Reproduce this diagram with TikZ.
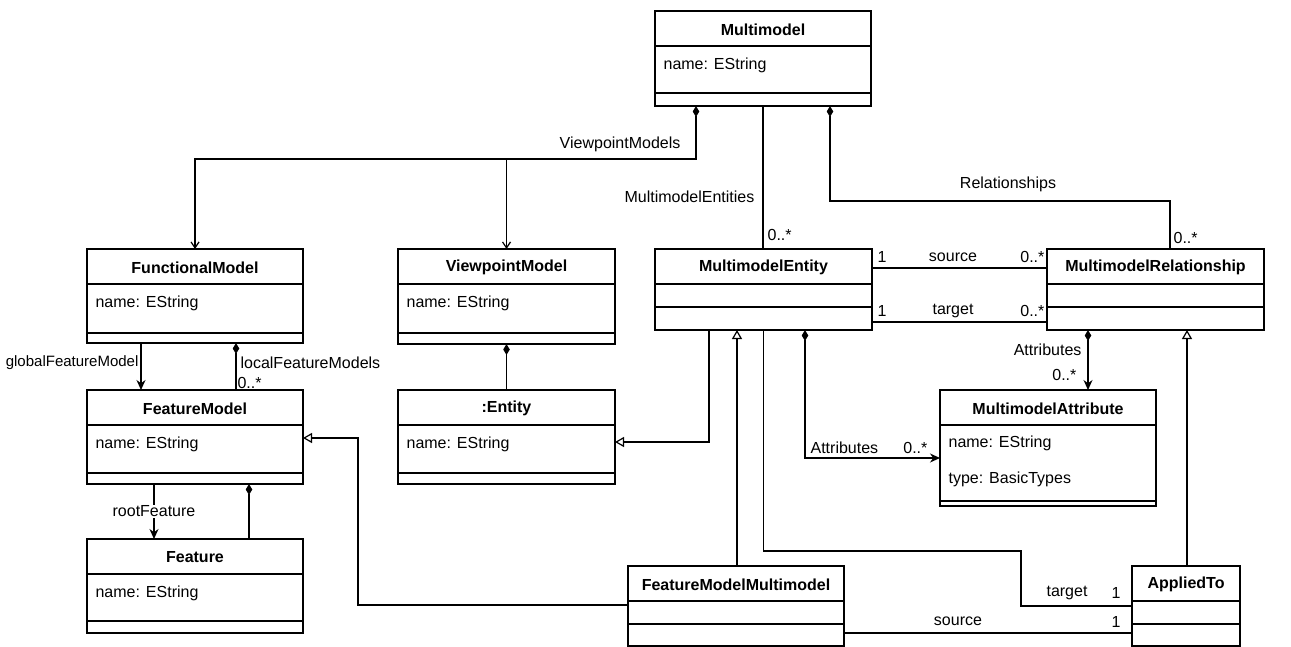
\documentclass[tikz,border=0pt]{standalone}
\usepackage{fontspec}
\setmainfont{Liberation Sans}
\usetikzlibrary{arrows.meta,calc}

% UML class box: name, x, y, width, height, offset of the operations divider, title
\newcommand\umlclass[7]{%
  \node[clsbox, minimum width=#4pt, minimum height=#5pt] (#1) at (#2,#3) {};
  \draw[boxline] ($(#1.north west)+(0,35)$) -- ($(#1.north east)+(0,35)$);
  \draw[boxline] ($(#1.north west)+(0,#6)$) -- ($(#1.north east)+(0,#6)$);
  \node[title] at ($(#1.north)+(0,18.5)$) {#7};
}

\begin{document}
\begin{tikzpicture}[x=1pt,y=-1pt,
  line width=1.2pt,
  font=\fontsize{16}{19}\selectfont,
  boxline/.style={line width=1.3pt},
  clsbox/.style={draw, rectangle, fill=white, inner sep=0pt, outer sep=0pt,
    anchor=north west, line width=1.3pt},
  title/.style={font=\fontsize{16}{19}\selectfont\bfseries, inner sep=0pt},
  attr/.style={anchor=west, inner sep=0pt},
  lbl/.style={inner sep=0pt},
  comp/.style={{Diamond[length=11pt,width=6.5pt]}-},
  compnav/.style={{Diamond[length=11pt,width=6.5pt]}-{Stealth[length=10pt,width=9pt]}},
  compopen/.style={{Diamond[length=11pt,width=6.5pt]}-{Straight Barb[length=6pt,width=8pt]}},
  nav/.style={-{Stealth[length=10pt,width=9pt]}},
  openend/.style={-{Straight Barb[length=6pt,width=8pt]}},
  gen/.style={-{Triangle[open,fill=white,length=9pt,width=10pt]}}
]
\useasboundingbox (0,0) rectangle (1291,647);

% classes
\umlclass{mm}{655}{11}{216}{95}{82}{Multimodel}
\umlclass{fm}{87}{249}{216}{94}{84}{FunctionalModel}
\umlclass{vm}{398}{249}{217}{95}{84}{ViewpointModel}
\umlclass{fem}{87}{390}{216}{94}{83}{FeatureModel}
\umlclass{ent}{398}{390}{217}{94}{83}{:Entity}
\umlclass{feat}{87}{539}{216}{94}{82}{Feature}
\umlclass{me}{655}{249}{217}{81}{58}{MultimodelEntity}
\umlclass{mr}{1047}{249}{217}{81}{58}{MultimodelRelationship}
\umlclass{ma}{940}{390}{216}{116}{111}{MultimodelAttribute}
\umlclass{fmm}{628}{566}{216}{80}{58}{FeatureModelMultimodel}
\umlclass{at}{1132}{566}{108}{80}{58}{AppliedTo}

% attributes
\node[attr] at ($(mm.north west)+(8,54)$) {name: EString};
\node[attr] at ($(fm.north west)+(8,54)$) {name: EString};
\node[attr] at ($(vm.north west)+(8,54)$) {name: EString};
\node[attr] at ($(fem.north west)+(8,54)$) {name: EString};
\node[attr] at ($(ent.north west)+(8,54)$) {name: EString};
\node[attr] at ($(feat.north west)+(8,54)$) {name: EString};
\node[attr] at ($(ma.north west)+(8,53)$) {name: EString};
\node[attr] at ($(ma.north west)+(8,89)$) {type: BasicTypes};

% Multimodel -> FunctionalModel / ViewpointModel
\coordinate (vpbend) at ($(mm.south west)+(41,53)$);
\draw[compopen] ($(mm.south west)+(41,0)$) -- (vpbend) -| (fm.north);
\draw[openend] (vm.north |- vpbend) -- (vm.north);
\node[lbl, anchor=east] at (681,144) {ViewpointModels};

% Multimodel -> MultimodelEntity
\draw (mm.south) -- (mm.south |- me.north);
\node[lbl, anchor=east] at (755,197) {MultimodelEntities};
\node[lbl, anchor=west] at (767,235) {0..*};

% Multimodel -> MultimodelRelationship
\draw[comp] ($(mm.south west)+(175,0)$) -- ++(0,95) -| ($(mr.north west)+(123,0)$);
\node[lbl] at (1008,184) {Relationships};
\node[lbl, anchor=west] at (1173,238) {0..*};

% MultimodelEntity -- MultimodelRelationship
\draw ($(me.north east)+(0,19)$) -- ($(mr.north west)+(0,19)$);
\node[lbl, anchor=west] at (877,257) {1};
\node[lbl] at (953,257) {source};
\node[lbl, anchor=east] at (1045,257) {0..*};
\draw ($(me.north east)+(0,73)$) -- ($(mr.north west)+(0,73)$);
\node[lbl, anchor=west] at (877,311) {1};
\node[lbl] at (953,311) {target};
\node[lbl, anchor=east] at (1045,311) {0..*};

% MultimodelRelationship -> MultimodelAttribute
\draw[compnav] ($(mr.south west)+(41,0)$) -- ($(ma.north west)+(148,0)$);
\node[lbl, anchor=east] at (1082,350) {Attributes};
\node[lbl, anchor=east] at (1077,375) {0..*};

% MultimodelEntity -> MultimodelAttribute
\draw[compnav] ($(me.south west)+(150,0)$) |- ($(ma.north west)+(0,68)$);
\node[lbl, anchor=west] at (810,448) {Attributes};
\node[lbl, anchor=east] at (928,448) {0..*};

% generalizations
\draw[gen] ($(me.south west)+(54,0)$) |- ($(ent.north east)+(0,52)$);
\draw[gen] ($(fmm.north west)+(109,0)$) -- ($(me.south west)+(82,0)$);
\draw[gen] ($(fmm.north west)+(0,39)$) -| ($(fem.north east)+(55,48)$) -- ($(fem.north east)+(0,48)$);
\draw[gen] ($(at.north west)+(55,0)$) -- ($(mr.south west)+(140,0)$);

% MultimodelEntity -- AppliedTo (target)
\draw (me.south) |- ($(at.north west)+(-111,-15)$) |- ($(at.north west)+(0,40)$);
\node[lbl] at (1067,593) {target};
\node[lbl] at (1116,593) {1};

% FeatureModelMultimodel -- AppliedTo (source)
\draw ($(fmm.north east)+(0,67)$) -- ($(at.north west)+(0,67)$);
\node[lbl] at (958,621) {source};
\node[lbl] at (1116,622) {1};

% FunctionalModel -> FeatureModel
\draw[nav] ($(fm.south west)+(54,0)$) -- ($(fem.north west)+(54,0)$);
\node[lbl, anchor=east, font=\fontsize{15}{18}\selectfont] at (139,363) {globalFeatureModel};
\draw[comp] ($(fm.south west)+(149,0)$) -- ($(fem.north west)+(149,0)$);
\node[lbl, anchor=west] at (240,363) {localFeatureModels};
\node[lbl, anchor=west] at (237,383) {0..*};

% FeatureModel -> Feature
\draw[nav] ($(fem.south west)+(67,0)$) -- ($(feat.north west)+(67,0)$)
  node[pos=0.5, fill=white, inner sep=1pt] {rootFeature};
\draw[comp] ($(fem.south west)+(162,0)$) -- ($(feat.north west)+(162,0)$);

% ViewpointModel -> :Entity
\draw[comp] (vm.south) -- (ent.north);

\end{tikzpicture}
\end{document}
